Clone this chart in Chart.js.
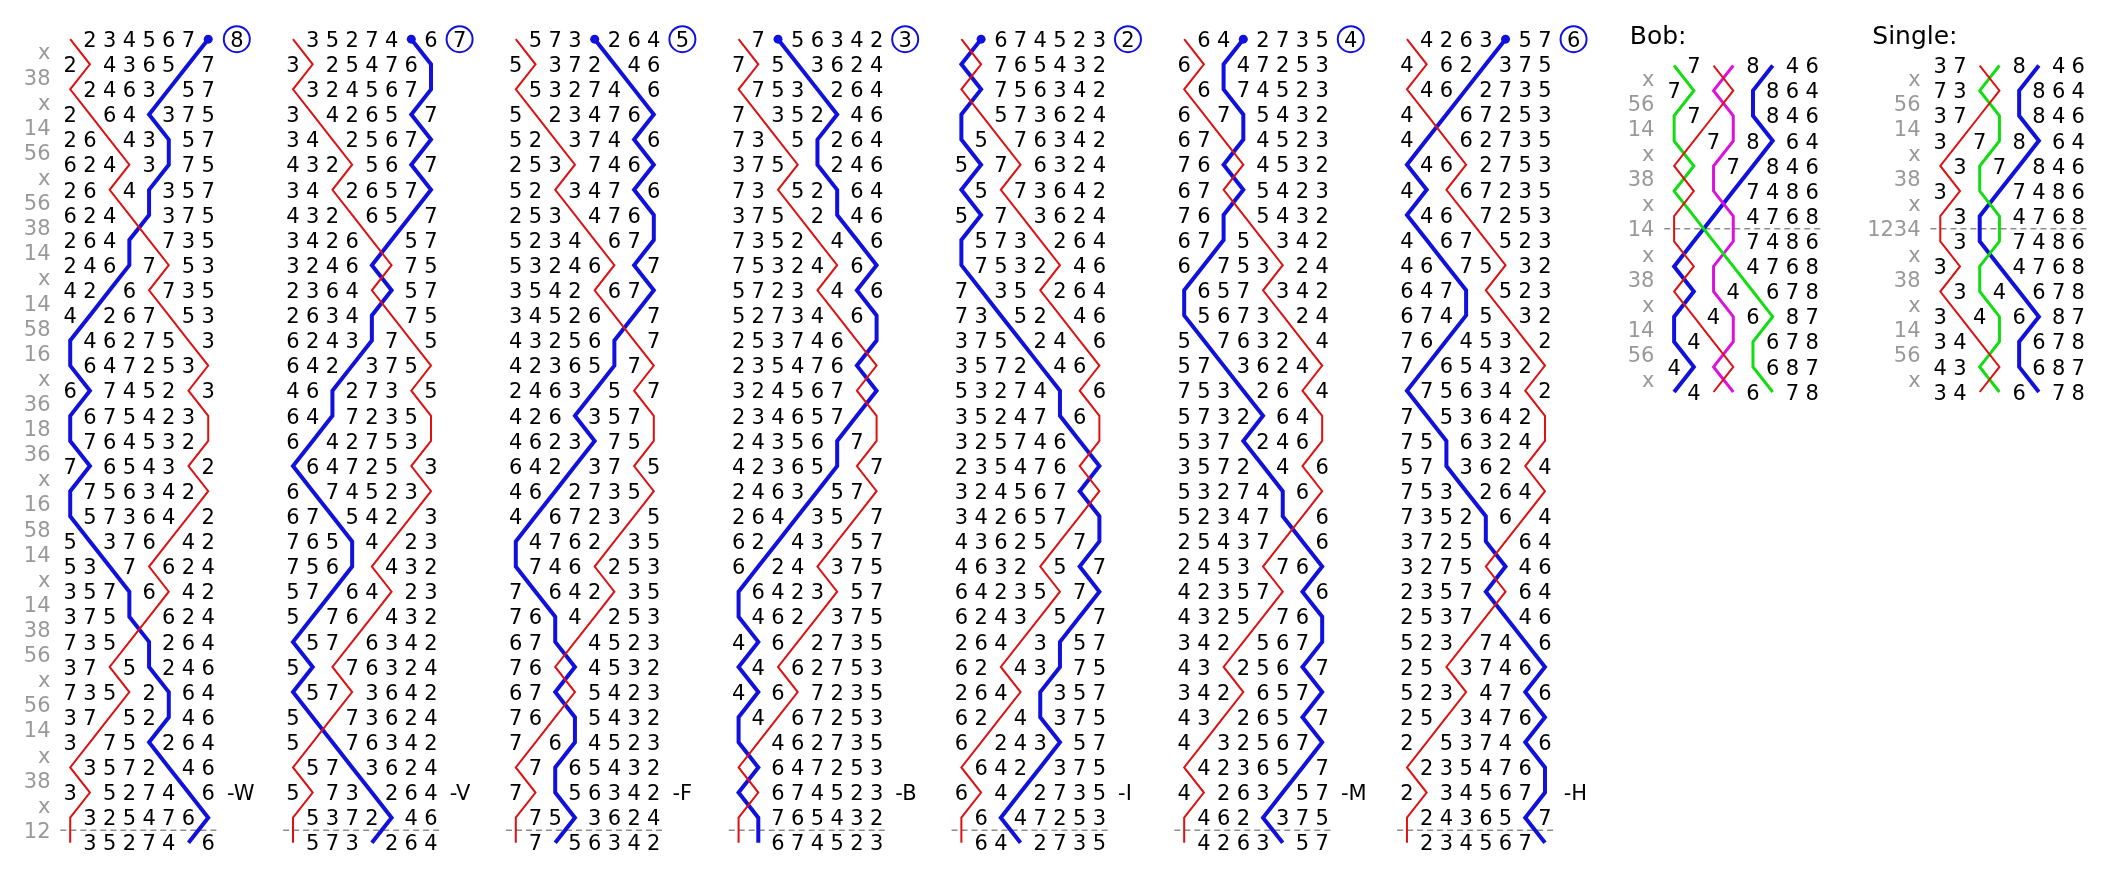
<!DOCTYPE html>
<html>
<head>
<meta charset="utf-8">
<script src="https://cdn.jsdelivr.net/npm/chart.js@4.4.1/dist/chart.umd.min.js"></script>
<style>
  html, body { margin: 0; padding: 0; background: #fff; overflow: hidden; }
  canvas { display: block; }
</style>
</head>
<body>
<canvas id="methodChart" width="2114" height="880"></canvas>
<script>
// place notation, one per change, shown down the left of the first lead
const placeNotation = ['x','38','x','14','56','x','56','38','14','x','14','58','16','x','36','18',
                       '36','x','16','58','14','x','14','38','56','x','56','14','x','38','x','12'];

// rows of each lead (last row = first row of next lead)
const lead1 = ['12345678','21436587','12463857','21648375','26143857','62413875','26148357','62418375',
               '26481735','24687153','42861735','48267153','84627513','86472531','68745213','86754231',
               '87645321','78654312','87563421','85736412','58376142','53871624','35786142','37581624',
               '73518264','37158246','73512864','37152846','31758264','13572846','31527486','13254768','13527486'];
const lead2 = ['13527486','31254768','13245678','31426587','34125678','43215687','34126578','43216587',
               '34261857','32468175','23641857','26348175','62438715','64283751','46827315','64872351',
               '68427531','86472513','68745231','67854213','76584123','75681432','57864123','58761432',
               '85716342','58176324','85713642','58173624','51876342','15783624','51738264','15372846','15738264'];
const lead3 = ['15738264','51372846','15327486','51234768','52137486','25317468','52134786','25314768',
               '52341678','53246187','35421678','34526187','43256817','42365871','24638517','42683571',
               '46238751','64283715','46827351','48672315','84762135','87461253','78642135','76841253',
               '67814523','76184532','67815423','76185432','71684523','17865432','71856342','17583624','17856342'];
const lead4 = ['17856342','71583624','17538264','71352846','73158264','37518246','73152864','37512846',
               '73521486','75324168','57231486','52734168','25374618','23547681','32456718','23465781',
               '24356871','42365817','24638571','26483517','62843157','68241375','86423157','84621375',
               '48612735','84162753','48617235','84167253','81462735','18647253','81674523','18765432','18674523'];
const lead5 = ['18674523','81765432','18756342','81573624','85176342','58716324','85173642','58713624',
               '85731264','87532146','78351264','73852146','37582416','35728461','53274816','35247861',
               '32574681','23547618','32456781','34265718','43625178','46321587','64235178','62431587',
               '26413857','62143875','26418357','62148375','61243857','16428375','61482735','16847253','16482735'];
const lead6 = ['16482735','61847253','16874523','61785432','67184523','76814532','67185423','76815432',
               '67851342','68753124','86571342','85673124','58763214','57836241','75382614','57328641',
               '53782461','35728416','53274861','52347816','25437186','24531768','42357186','43251768',
               '34215678','43125687','34216578','43126587','41325678','14236587','41263857','14628375','14263857'];
const lead7 = ['14263857','41628375','14682735','41867253','48162735','84612753','48167235','84617253',
               '48671523','46875132','64781523','67485132','76845312','78654321','87563412','78536421',
               '75863241','57836214','75382641','73528614','37258164','32751846','23578164','25371846',
               '52317486','25137468','52314786','25134768','21537486','12354768','21345678','12436587','12345678'];

const placeBells = ['8','7','5','3','2','4','6'];
const callLabels = ['-W','-V','-F','-B','-I','-M','-H'];

const bobNotation = ['x','56','14','x','38','x','14','x','38','x','14','56','x'];
const bobRows = ['37158246','73512864','37152846','31758264','13572846','31527486','13254768',
                 '12357486','21534768','12543678','21456387','24153678','42513687','24156378'];
const singleNotation = ['x','56','14','x','38','x','1234','x','38','x','14','56','x'];
const singleRows = ['37158246','73512864','37152846','31758264','13572846','31527486','13254768',
                    '13257486','31524768','13542678','31456287','34152678','43512687','34156278'];

// ---- layout (units: 1 = one place across, one row down) ----
const RED = '#dd1111', BLUE = '#1111dd', GREEN = '#11dd11', MAGENTA = '#dd11dd', GREY = '#999999';
const COL_STEP = 11.3;
const BOB_X = 81.35, SINGLE_X = 94.85, PANEL_Y = 1.05;
const FONT = '"DejaVu Sans", sans-serif';

const leads = [lead1, lead2, lead3, lead4, lead5, lead6, lead7];

function path(rows, bell, x0, y0) {
    return rows.map((row, r) => ({ x: x0 + row.indexOf(bell), y: y0 + r }));
}

// lower order is drawn on top
function lineSet(data, color, width, order) {
    return { data: data, showLine: true, borderColor: color, borderWidth: width,
             pointRadius: 0, tension: 0, order: order };
}

function dashSet(x0, y) {
    return { data: [{ x: x0 - 0.5, y: y }, { x: x0 + 7.45, y: y }], showLine: true,
             borderColor: '#8c8c8c', borderWidth: 1.5, borderDash: [6, 4], pointRadius: 0, order: 9 };
}

let datasets = [];
leads.forEach((rows, c) => {
    const x0 = c * COL_STEP;
    const blue = path(rows, '8', x0, 0);
    datasets.push(dashSet(x0, rows.length - 1.5));
    datasets.push(lineSet(blue, BLUE, 4, 3));
    datasets.push(lineSet(path(rows, '1', x0, 0), RED, 2, 1));
    datasets.push({ data: [blue[0]], pointRadius: 4.5, backgroundColor: BLUE, borderWidth: 0, order: 2 });
    datasets.push({ data: [{ x: x0 + 8.45, y: 0 }], pointRadius: 13, pointStyle: 'circle',
                    backgroundColor: '#fff', borderColor: BLUE, borderWidth: 2, order: 2 });
});

// bob panel: treble red, 3 green, 5 magenta, 2 blue
datasets.push(dashSet(BOB_X, PANEL_Y + 6.5));
datasets.push(lineSet(path(bobRows, '2', BOB_X, PANEL_Y), BLUE, 4, 5));
datasets.push(lineSet(path(bobRows, '3', BOB_X, PANEL_Y), GREEN, 3, 4));
datasets.push(lineSet(path(bobRows, '5', BOB_X, PANEL_Y), MAGENTA, 3, 4));
datasets.push(lineSet(path(bobRows, '1', BOB_X, PANEL_Y), RED, 2, 1));

// single panel: treble red, 5 green, 2 blue
datasets.push(dashSet(SINGLE_X, PANEL_Y + 6.5));
datasets.push(lineSet(path(singleRows, '2', SINGLE_X, PANEL_Y), BLUE, 4, 5));
datasets.push(lineSet(path(singleRows, '5', SINGLE_X, PANEL_Y), GREEN, 3, 4));
datasets.push(lineSet(path(singleRows, '1', SINGLE_X, PANEL_Y), RED, 2, 1));

// which bells are shown as digits in each block
const blocks = leads.map((rows, c) => ({ rows: rows, x0: c * COL_STEP, y0: 0, lines: '18' }));
blocks.push({ rows: bobRows, x0: BOB_X, y0: PANEL_Y, lines: '1235' });
blocks.push({ rows: singleRows, x0: SINGLE_X, y0: PANEL_Y, lines: '125' });

const notations = [
    { pn: placeNotation, x0: 0, y0: 0 },
    { pn: bobNotation, x0: BOB_X, y0: PANEL_Y },
    { pn: singleNotation, x0: SINGLE_X, y0: PANEL_Y },
];

const textPlugin = {
    id: 'ringingText',
    afterDatasetsDraw(chart) {
        const ctx = chart.ctx;
        const sx = chart.scales.x, sy = chart.scales.y;
        const X = v => sx.getPixelForValue(v);
        const Y = v => sy.getPixelForValue(v);
        ctx.save();
        ctx.textBaseline = 'alphabetic';

        // bell numbers
        ctx.font = '21px ' + FONT;
        ctx.fillStyle = '#000';
        ctx.textAlign = 'center';
        blocks.forEach(b => {
            b.rows.forEach((row, r) => {
                for (let p = 0; p < row.length; p++) {
                    if (b.lines.indexOf(row[p]) >= 0) continue;
                    ctx.fillText(row[p], X(b.x0 + p), Y(b.y0 + r) + 7.7);
                }
            });
        });

        // place bells in circles
        leads.forEach((rows, c) => {
            ctx.fillText(placeBells[c], X(c * COL_STEP + 8.45), Y(0) + 7.7);
        });

        // calling positions
        ctx.textAlign = 'left';
        leads.forEach((rows, c) => {
            ctx.fillText(callLabels[c], X(c * COL_STEP + 7.95), Y(30) + 7.7);
        });

        // place notation
        ctx.fillStyle = GREY;
        ctx.textAlign = 'right';
        notations.forEach(n => {
            n.pn.forEach((s, i) => {
                ctx.fillText(s, X(n.x0 - 1.0), Y(n.y0 + i + 0.5) + 7.7);
            });
        });

        // panel titles
        ctx.fillStyle = '#000';
        ctx.textAlign = 'left';
        ctx.font = '25px ' + FONT;
        ctx.fillText('Bob:', X(79.1), Y(-0.19) + 9.3);
        ctx.fillText('Single:', X(91.4), Y(-0.19) + 9.3);
        ctx.restore();
    }
};

new Chart(document.getElementById('methodChart').getContext('2d'), {
    type: 'scatter',
    data: { datasets: datasets },
    options: {
        responsive: false,
        animation: false,
        events: [],
        layout: { padding: 0 },
        plugins: { legend: { display: false }, tooltip: { enabled: false } },
        scales: {
            x: { type: 'linear', min: -2.8, max: 102.9, display: false },
            y: { type: 'linear', min: -0.9615, max: 32.8846, reverse: true, display: false }
        }
    },
    plugins: [textPlugin]
});
</script>
</body>
</html>
